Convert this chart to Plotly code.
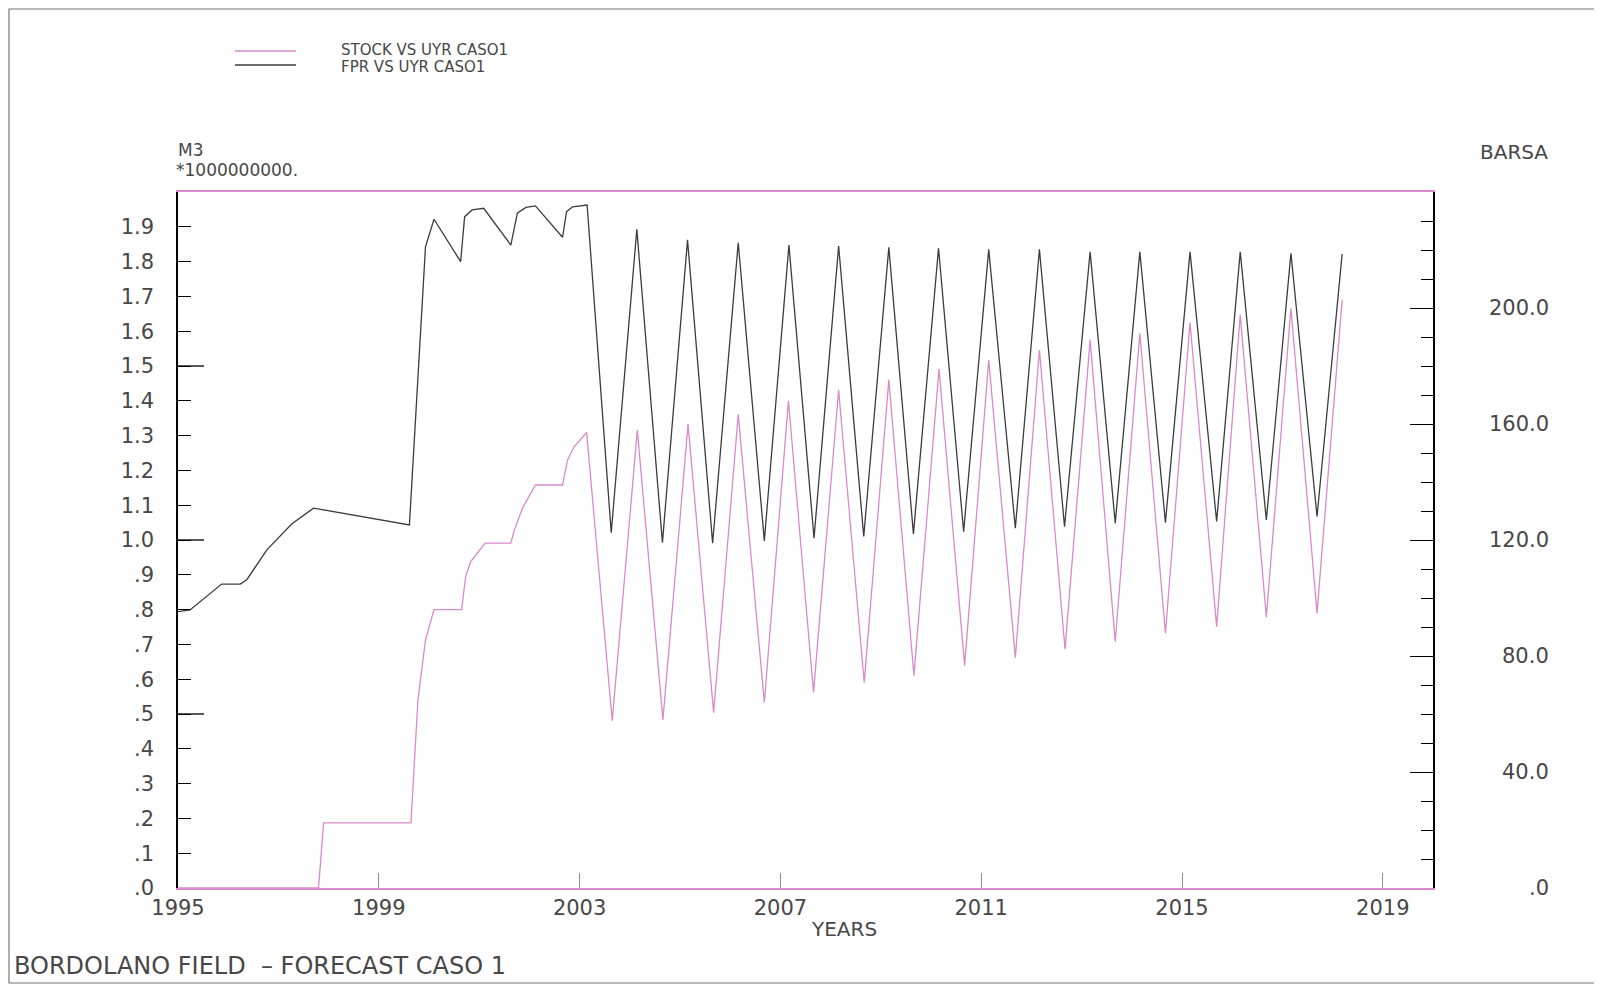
import plotly.graph_objects as go

# ---------------- data ----------------
stock_years = [1995.00, 1997.80, 1997.90, 1999.64, 1999.78, 1999.93, 2000.10, 2000.65,
               2000.73, 2000.83, 2001.12, 2001.63, 2001.69, 2001.86, 2002.12, 2002.66,
               2002.76, 2002.89, 2003.14,
               2003.65, 2004.15, 2004.66, 2005.16, 2005.67, 2006.16, 2006.68, 2007.16,
               2007.66, 2008.16, 2008.67, 2009.16, 2009.66, 2010.16, 2010.67, 2011.15,
               2011.68, 2012.16, 2012.67, 2013.17, 2013.67, 2014.16, 2014.67, 2015.16,
               2015.69, 2016.16, 2016.68, 2017.17, 2017.69, 2018.19]
stock_values = [0.0, 0.0, 0.187, 0.187, 0.541, 0.713, 0.800, 0.800,
                0.895, 0.938, 0.991, 0.991, 1.024, 1.091, 1.158, 1.158,
                1.230, 1.268, 1.309,
                0.481, 1.316, 0.483, 1.333, 0.504, 1.361, 0.533, 1.400,
                0.562, 1.431, 0.591, 1.460, 0.611, 1.491, 0.639, 1.517,
                0.662, 1.546, 0.686, 1.575, 0.708, 1.594, 0.732, 1.625,
                0.751, 1.647, 0.778, 1.666, 0.790, 1.690]

fpr_years = [1995.00, 1995.24, 1995.87, 1996.24, 1996.37, 1996.77, 1997.27, 1997.70,
             1999.61, 1999.93, 2000.10, 2000.63, 2000.71, 2000.86, 2001.09, 2001.63,
             2001.76, 2001.93, 2002.12, 2002.66, 2002.74, 2002.86, 2003.15,
             2003.63, 2004.14, 2004.65, 2005.15, 2005.65, 2006.16, 2006.68, 2007.17,
             2007.67, 2008.16, 2008.66, 2009.16, 2009.65, 2010.15, 2010.65, 2011.15,
             2011.68, 2012.16, 2012.66, 2013.17, 2013.67, 2014.16, 2014.67, 2015.16,
             2015.69, 2016.16, 2016.68, 2017.17, 2017.69, 2018.19]
fpr_values = [95.3, 95.9, 104.8, 104.8, 106.3, 116.6, 125.6, 131.0,
              125.2, 221.1, 230.6, 216.0, 231.5, 233.8, 234.4, 221.7,
              232.7, 234.7, 235.2, 224.4, 233.2, 234.9, 235.5,
              122.5, 227.1, 119.1, 223.5, 118.9, 222.5, 119.7, 221.7,
              120.6, 221.4, 121.2, 220.9, 122.1, 220.6, 122.9, 220.2,
              124.1, 220.2, 124.6, 219.4, 125.8, 219.4, 126.0, 219.4,
              126.4, 219.4, 126.9, 218.9, 128.1, 218.6]

series_names = ["STOCK VS UYR CASO1", "FPR VS UYR CASO1"]

x_tick_values = [1995, 1999, 2003, 2007, 2011, 2015, 2019]
x_tick_labels = ["1995", "1999", "2003", "2007", "2011", "2015", "2019"]
left_tick_values = [0.0, 0.1, 0.2, 0.3, 0.4, 0.5, 0.6, 0.7, 0.8, 0.9,
                    1.0, 1.1, 1.2, 1.3, 1.4, 1.5, 1.6, 1.7, 1.8, 1.9]
left_tick_labels = [".0", ".1", ".2", ".3", ".4", ".5", ".6", ".7", ".8", ".9",
                    "1.0", "1.1", "1.2", "1.3", "1.4", "1.5", "1.6", "1.7", "1.8", "1.9"]
left_long_ticks = [0.5, 1.0, 1.5]
right_tick_values = [0, 40, 80, 120, 160, 200]
right_tick_labels = [".0", "40.0", "80.0", "120.0", "160.0", "200.0"]

# ---------------- layout geometry (page pixels) ----------------
OFF = 8                          # default body margin of the html page
W, H = 1602 - OFF, 995 - 2 * OFF  # figure size so the page does not scroll
PL, PR, PT, PB = 178, 1433, 192, 888  # plot area in page pixels


def pxx(x):
    return (x - PL) / (PR - PL)


def pxy(y):
    return (PB - y) / (PB - PT)


FONT = "DejaVu Sans"
TXT = "#474747"
PINK = "#d98ac9"
DARK = "#3c3c3c"

fig = go.Figure()
fig.add_trace(go.Scatter(x=stock_years, y=stock_values, name=series_names[0], mode="lines",
                         line=dict(color=PINK, width=1.3), yaxis="y"))
fig.add_trace(go.Scatter(x=fpr_years, y=fpr_values, name=series_names[1], mode="lines",
                         line=dict(color=DARK, width=1.3), yaxis="y2"))

fig.update_layout(
    width=W, height=H,
    margin=dict(l=PL - OFF, r=W - (PR - OFF), t=PT - OFF, b=H - (PB - OFF), pad=0),
    paper_bgcolor="white", plot_bgcolor="white",
    showlegend=False,
    font=dict(family=FONT, color=TXT, size=20),
    xaxis=dict(range=[1995, 2020], showgrid=False, zeroline=False,
               showline=True, linecolor=PINK, linewidth=1.5, mirror=True,
               tickmode="array", tickvals=x_tick_values, ticktext=x_tick_labels,
               ticks="inside", ticklen=15, tickcolor="#9a8a98", tickwidth=1,
               tickfont=dict(family=FONT, size=21, color=TXT)),
    yaxis=dict(range=[0, 2.0], showgrid=False, zeroline=False,
               showline=True, linecolor="black", linewidth=1.5,
               tickmode="array", tickvals=left_tick_values, ticktext=left_tick_labels,
               ticks="inside", ticklen=13, tickcolor="black", tickwidth=1.3,
               ticklabelstandoff=18,
               tickfont=dict(family=FONT, size=21, color=TXT)),
    yaxis2=dict(range=[0, 240], overlaying="y", side="right", showgrid=False, zeroline=False,
                showline=True, linecolor="black", linewidth=1.5,
                tickmode="array", tickvals=right_tick_values,
                ticks="inside", ticklen=23, tickcolor="black", tickwidth=1.3,
                showticklabels=False,
                minor=dict(dtick=10, tick0=0, ticks="inside", ticklen=12,
                           tickcolor="black", tickwidth=1.3, showgrid=False)),
)

shapes = []
# long ticks on left axis
for v in left_long_ticks:
    shapes.append(dict(type="line", xref="paper", yref="y", x0=0, x1=26 / (PR - PL),
                       y0=v, y1=v, line=dict(color="black", width=1.3)))
# legend sample lines
shapes.append(dict(type="line", xref="paper", yref="paper", x0=pxx(235), x1=pxx(296),
                   y0=pxy(51), y1=pxy(51), line=dict(color=PINK, width=1.3)))
shapes.append(dict(type="line", xref="paper", yref="paper", x0=pxx(235), x1=pxx(296),
                   y0=pxy(65), y1=pxy(65), line=dict(color=DARK, width=1.3)))
# outer frame
shapes.append(dict(type="rect", xref="paper", yref="paper", x0=pxx(9), x1=pxx(1598),
                   y0=pxy(983), y1=pxy(9), line=dict(color="#777777", width=1.2)))
fig.update_layout(shapes=shapes)

ann = []
for v, t in zip(right_tick_values, right_tick_labels):
    ann.append(dict(text=t, xref="paper", yref="y2", x=pxx(1551), y=v, xanchor="right",
                    yanchor="middle", showarrow=False, font=dict(family=FONT, size=21, color=TXT)))


def add_text(text, x, y, anchor="left", size=21):
    ann.append(dict(text=text, xref="paper", yref="paper", x=pxx(x), y=pxy(y), xanchor=anchor,
                    yanchor="middle", showarrow=False, font=dict(family=FONT, size=size, color=TXT)))


add_text(series_names[0], 339, 50, size=15)
add_text(series_names[1], 339, 67, size=15)
add_text("M3", 176, 150, size=17)
add_text("*1000000000.", 174, 170, size=17)
add_text("BARSA", 1550, 152, anchor="right", size=20)
add_text("YEARS", 844, 929, anchor="center", size=20)
add_text("BORDOLANO FIELD  \u2013 FORECAST CASO 1", 12, 966, size=24)
fig.update_layout(annotations=ann)

fig.write_html("out.html")
